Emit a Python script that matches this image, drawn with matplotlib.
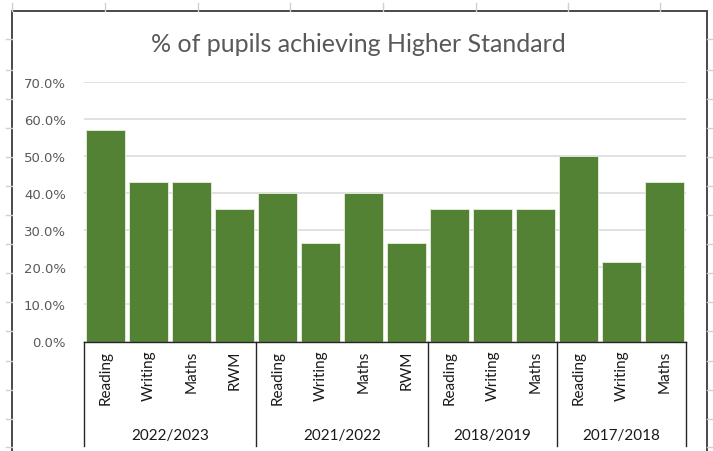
import matplotlib
matplotlib.use("Agg")
import matplotlib.pyplot as plt
from matplotlib.ticker import PercentFormatter, MultipleLocator
from matplotlib.lines import Line2D
from matplotlib.patches import Rectangle
import matplotlib.transforms as mtransforms

# ---- data ----
groups = ["2022/2023", "2021/2022", "2018/2019", "2017/2018"]
subjects_2223 = ["Reading", "Writing", "Maths", "RWM"]
subjects_2122 = ["Reading", "Writing", "Maths", "RWM"]
subjects_1819 = ["Reading", "Writing", "Maths"]
subjects_1718 = ["Reading", "Writing", "Maths"]
values_2223 = [0.571, 0.429, 0.429, 0.357]
values_2122 = [0.400, 0.267, 0.400, 0.267]
values_1819 = [0.357, 0.357, 0.357]
values_1718 = [0.500, 0.214, 0.429]
title = "% of pupils achieving Higher Standard"

group_subjects = [subjects_2223, subjects_2122, subjects_1819, subjects_1718]
group_values = [values_2223, values_2122, values_1819, values_1718]

labels = [s for g in group_subjects for s in g]
values = [v for g in group_values for v in g]
positions = list(range(len(values)))

W, H = 713, 452
fig = plt.figure(figsize=(W / 100, H / 100), dpi=100)
fig.patch.set_facecolor("white")


def fx(x):
    return x / W


def fy(y):
    return 1 - y / H


# ---- faint spreadsheet grid in the margins ----
sheet_col = "#d0d0d0"
col_x = [12, 105, 198, 290, 383, 476, 568, 660]
for x in col_x:
    fig.add_artist(Line2D([fx(x), fx(x)], [fy(4), fy(12)], color=sheet_col, lw=1,
                          transform=fig.transFigure))
row_y = [40, 70.5, 100, 129, 158, 187, 216, 245, 274, 303, 332, 362, 391, 420, 448]
for y in row_y:
    fig.add_artist(Line2D([fx(6), fx(12)], [fy(y), fy(y)], color=sheet_col, lw=1,
                          transform=fig.transFigure))
    fig.add_artist(Line2D([fx(707), fx(713)], [fy(y), fy(y)], color=sheet_col, lw=1,
                          transform=fig.transFigure))

# ---- chart border ----
fig.add_artist(Rectangle((fx(12), -0.05), fx(707) - fx(12), fy(12) + 0.05,
                         transform=fig.transFigure, fill=False,
                         edgecolor="#3a3a3a", lw=1.3))

# ---- axes ----
left, right = 84, 686
top, bottom = 83, 342.5
ax = fig.add_axes([fx(left), fy(bottom), fx(right) - fx(left), fy(top) - fy(bottom)])
ax.set_facecolor("none")

ax.bar(positions, values, width=0.9, color="#548235", edgecolor="#e6efe0", linewidth=0.6, zorder=3)

ax.set_xlim(-0.5, len(values) - 0.5)
ax.set_ylim(0, 0.7)
ax.yaxis.set_major_locator(MultipleLocator(0.1))
ax.yaxis.set_major_formatter(PercentFormatter(1.0, decimals=1))
ax.grid(axis="y", color="#d9d9d9", lw=1.1, zorder=0)
for s in ["top", "right", "left"]:
    ax.spines[s].set_visible(False)
ax.spines["bottom"].set_color("#262626")
ax.spines["bottom"].set_linewidth(1.0)
ax.spines["bottom"].set_zorder(4)
ax.tick_params(axis="y", length=0, pad=13, labelsize=9.5, labelcolor="#595959")
for t in ax.get_yticklabels():
    t.set_family("DejaVu Sans")

ax.set_xticks(positions)
ax.set_xticklabels(labels, rotation=90, fontsize=11, family="Lato", color="#1a1a1a",
                   va="top", ha="center")
ax.tick_params(axis="x", length=0, pad=6)

# ---- multi-level category separators and group labels ----
px_per_axes = bottom - top
y_end = -(447 - bottom) / px_per_axes
trans = mtransforms.blended_transform_factory(ax.transData, ax.transAxes)
bounds = [-0.5]
for g in group_values:
    bounds.append(bounds[-1] + len(g))
for b in bounds:
    ax.plot([b, b], [0, y_end], color="#262626", lw=1.0, transform=trans, clip_on=False)

y_group = -(436 - bottom) / px_per_axes
for i, g in enumerate(groups):
    cx = (bounds[i] + bounds[i + 1]) / 2
    ax.text(cx, y_group, g, transform=trans, ha="center", va="center",
            fontsize=11, family="Lato", color="#1a1a1a")

fig.text(fx(358), fy(45), title, ha="center", va="center", fontsize=18,
         family="Lato", color="#595959")

fig.savefig("out.png", dpi=100)
